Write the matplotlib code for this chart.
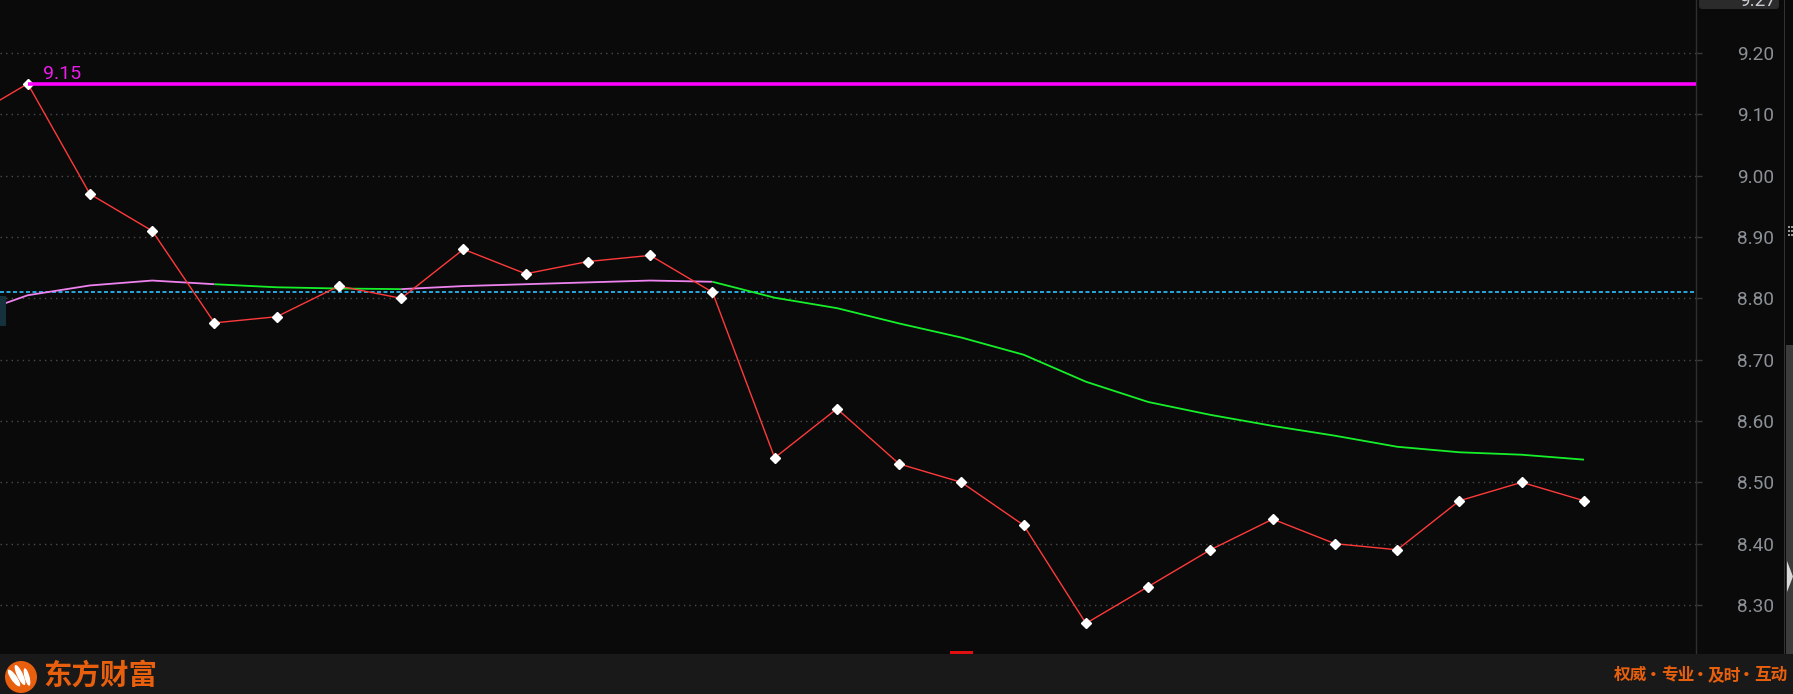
import numpy as np
import matplotlib
matplotlib.use("Agg")
import matplotlib.pyplot as plt
from matplotlib.patches import Rectangle, Circle, FancyBboxPatch, Polygon, Ellipse

# ---------------- data ----------------
# index -1 is the bar just left of the visible window
idx = list(range(-1, 26))
price = [9.09, 9.15, 8.97, 8.91, 8.76, 8.77, 8.82, 8.80, 8.88, 8.84, 8.86, 8.87,
         8.81, 8.54, 8.62, 8.53, 8.50, 8.43, 8.27, 8.33, 8.39, 8.44, 8.40, 8.39,
         8.47, 8.50, 8.47]
ma = [8.769, 8.805, 8.821, 8.829, 8.823, 8.818, 8.816, 8.815, 8.820, 8.823,
      8.826, 8.829, 8.827, 8.801, 8.784, 8.759, 8.736, 8.708, 8.664, 8.631,
      8.610, 8.592, 8.576, 8.558, 8.549, 8.545, 8.537]
high_level = 9.15
high_label = "9.15"
ref_level = 8.81
yticks = [8.30, 8.40, 8.50, 8.60, 8.70, 8.80, 8.90, 9.00, 9.10, 9.20]
ytick_labels = ["8.30", "8.40", "8.50", "8.60", "8.70", "8.80", "8.90", "9.00", "9.10", "9.20"]
top_label = "9.27"
brand = "东方财富"
slogan_parts = ["权威", "专业", "及时", "互动"]

# ---------------- style ----------------
W, H = 1793, 694
BG = "#0a0a0a"
PURPLE = "#ee82ee"
GREEN = "#16f02a"
RED = "#ff3a3a"
ORANGE = "#e8600e"
# MA colour runs (start index, end index, colour)
ma_runs = [(-1, 3, PURPLE), (3, 6, GREEN), (6, 11, PURPLE), (11, 25, GREEN)]

plt.rcParams['font.family'] = ['Roboto', 'Noto Sans CJK SC', 'DejaVu Sans']

fig = plt.figure(figsize=(W / 100, H / 100), dpi=100)
fig.patch.set_facecolor(BG)

ax = fig.add_axes([0, 1 - 654 / H, 1696 / W, 654 / H])
ax.set_facecolor(BG)
ax.set_xlim(-0.445, 26.80)
ax.set_ylim(8.2201, 9.2864)

for s in ["top", "left", "bottom"]:
    ax.spines[s].set_visible(False)
ax.spines["right"].set_color("#2e2e2e")
ax.spines["right"].set_linewidth(1.0)
ax.set_xticks([])
ax.yaxis.tick_right()
ax.set_yticks(yticks)
ax.set_yticklabels(ytick_labels)
ax.tick_params(axis="y", colors="#3a3a3a", length=4, width=1, pad=52.5,
               labelcolor="#8c9197", labelsize=13.7)
for lab in ax.get_yticklabels():
    lab.set_horizontalalignment("right")

# grid
for v in yticks:
    ax.axhline(v, color="#4a4a4a", lw=1.0, ls=(0, (1, 3)), zorder=1)

# reference dashed line
ax.axhline(ref_level, color="#2ab4f0", lw=1.3, ls=(0, (2.2, 1.4)), zorder=2)

# MA line in coloured runs
xi = np.array(idx)
mav = np.array(ma)
for a, b, c in ma_runs:
    sel = (xi >= a) & (xi <= b)
    ax.plot(xi[sel], mav[sel], color=c, lw=1.3, zorder=3, solid_capstyle="butt")

# price line
ax.plot(idx, price, color=RED, lw=1.0, zorder=4)
ax.plot(idx[1:], price[1:], ls="none", marker="D", ms=4.6, mfc="white",
        mec="white", zorder=5)

# high level line and label
imax = int(np.argmax(price))
ax.plot([idx[imax], ax.get_xlim()[1]], [high_level, high_level],
        color="#ff00ff", lw=2.6, zorder=6, solid_capstyle="butt")
ax.text(idx[imax] + 0.24, high_level + 0.008, high_label, color="#e81ee8",
        fontsize=14, ha="left", va="baseline", zorder=7)

# ---------------- decorations (pixel overlay) ----------------
ov = fig.add_axes([0, 0, 1, 1], zorder=10)
ov.set_xlim(0, W)
ov.set_ylim(H, 0)
ov.axis("off")
ov.patch.set_alpha(0)

# left price box stub
ov.add_patch(Rectangle((0, 296), 6, 30, color="#15323c", lw=0))
# top-right value box
ov.add_patch(FancyBboxPatch((1699, -8), 80, 17, boxstyle="round,pad=0,rounding_size=3",
                            color="#2b2b2b", lw=0))
t = ov.text(1776, 1, top_label, color="#c9cdd2", fontsize=13.7, ha="right", va="center")
t.set_clip_on(True)
# right scrollbar strip
ov.add_patch(Rectangle((1784, 0), 1.2, 654, color="#333333", lw=0))
ov.add_patch(Rectangle((1785.5, 345), 8, 309, color="#3c3c3c", lw=0))
for gy in (226, 230, 234):
    for gx in (1788, 1791):
        ov.add_patch(Rectangle((gx, gy), 1.5, 1.5, color="#9a9a9a", lw=0))
ov.add_patch(Polygon([[1787, 561], [1787, 592], [1793, 576.5]], closed=True,
                     color="#d8d8d8", lw=0))
# small red marker at bottom
ov.add_patch(Rectangle((950, 651), 23, 3, color="#e01010", lw=0))

# footer
ov.add_patch(Rectangle((0, 654), W, 40, color="#191919", lw=0))
ov.add_patch(Circle((21, 677), 16, color=ORANGE, lw=0))
for (cx, cy, w, h, ang) in [(14, 678, 6, 20, -35), (20, 675, 6, 22, -25), (27, 677, 5, 18, -15)]:
    ov.add_patch(Ellipse((cx, cy), w, h, angle=ang, color="white", lw=0))
ov.text(43, 676, brand, color=ORANGE, fontsize=20.5, fontweight="bold",
        family=["Noto Sans CJK SC"], ha="left", va="center")
# slogan: words placed right-to-left with a middle dot between them
part_right = [1787 - 46.5 * k for k in range(4)]
for k, word in enumerate(reversed(slogan_parts)):
    xr = part_right[k]
    ov.text(xr, 675, word, color=ORANGE, fontsize=12, fontweight="bold",
            family=["Noto Sans CJK SC"], ha="right", va="center")
    if k < 3:
        ov.text(xr - 40.5, 675, "·", color=ORANGE, fontsize=12, fontweight="bold",
                family=["Noto Sans CJK SC"], ha="center", va="center")

fig.savefig("out.png", dpi=100, facecolor=BG)
